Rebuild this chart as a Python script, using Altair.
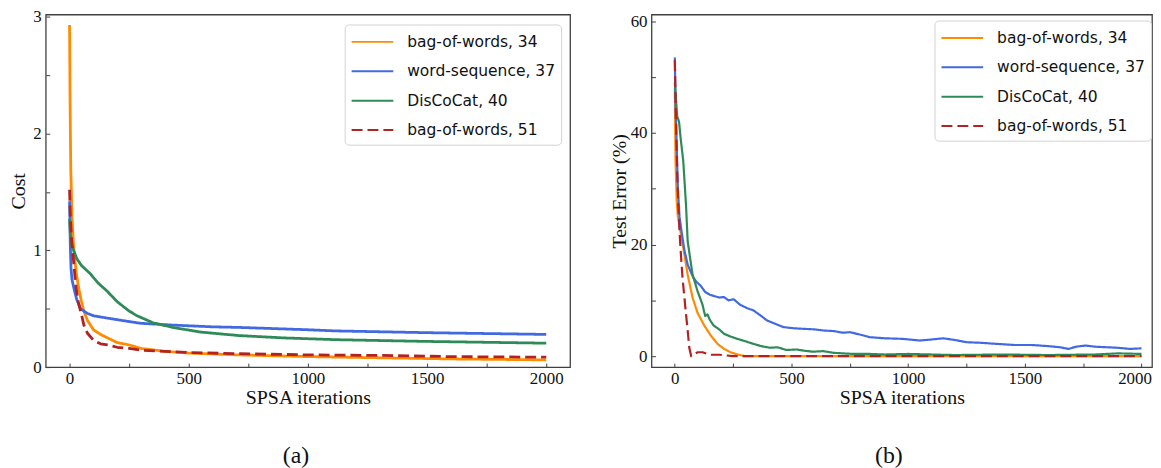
import altair as alt
import pandas as pd

SERIES = ["bag-of-words, 34", "word-sequence, 37", "DisCoCat, 40", "bag-of-words, 51"]
COLORS = ["#ff8c00", "#4169e1", "#2e8b57", "#b22222"]
DASHES = [[1, 0], [1, 0], [1, 0], [11, 5]]

# ---- panel (a): Cost ----
cost_bow34_x = [0, 2, 5, 10, 15, 20, 30, 40, 50, 60, 75, 100, 130, 160, 200, 250, 300, 400, 500, 700, 1000, 1300, 1600, 2000]
cost_bow34_y = [2.93, 2.3, 1.7, 1.3, 1.1, 0.95, 0.78, 0.66, 0.56, 0.48, 0.4, 0.32, 0.28, 0.25, 0.21, 0.19, 0.16, 0.135, 0.12, 0.105, 0.09, 0.08, 0.07, 0.062]
cost_ws37_x = [0, 3, 6, 10, 20, 30, 46, 75, 100, 158, 250, 300, 433, 600, 712, 1000, 1117, 1500, 2000]
cost_ws37_y = [1.42, 1.05, 0.85, 0.75, 0.66, 0.58, 0.5, 0.46, 0.44, 0.42, 0.39, 0.375, 0.36, 0.345, 0.34, 0.32, 0.31, 0.295, 0.28]
cost_dcc40_x = [0, 3, 8, 17, 30, 50, 87, 120, 158, 200, 250, 283, 350, 433, 550, 712, 900, 1117, 1500, 2000]
cost_dcc40_y = [1.27, 1.15, 1.05, 1.0, 0.93, 0.87, 0.8, 0.72, 0.65, 0.56, 0.48, 0.44, 0.38, 0.34, 0.3, 0.27, 0.25, 0.235, 0.22, 0.205]
cost_bow51_x = [0, 3, 8, 15, 25, 35, 50, 60, 75, 100, 130, 160, 200, 250, 300, 400, 500, 700, 1000, 1300, 1600, 2000]
cost_bow51_y = [1.52, 1.3, 1.1, 0.95, 0.72, 0.57, 0.45, 0.36, 0.29, 0.23, 0.2, 0.19, 0.17, 0.16, 0.145, 0.135, 0.125, 0.115, 0.105, 0.1, 0.09, 0.085]

# ---- panel (b): Test error (%) ----
err_bow34_x = [0, 3, 8, 13, 20, 26, 41, 55, 76, 97, 126, 154, 183, 211, 239, 268, 300, 2000]
err_bow34_y = [48, 35, 28, 25, 23.5, 21.8, 18.2, 14.6, 10.5, 7.8, 5.5, 3.7, 2.2, 1.3, 0.7, 0.3, 0, 0]
err_ws37_x = [0, 3, 8, 13, 20, 30, 41, 55, 64, 80, 95, 111, 130, 150, 166, 190, 210, 230, 252, 280, 310, 337, 370, 395,
              430, 466, 510, 551, 600, 636, 680, 720, 750, 800, 835, 900, 977, 1050, 1103, 1150, 1200, 1250, 1310,
              1380, 1455, 1530, 1600, 1650, 1687, 1720, 1760, 1800, 1850, 1900, 1950, 2000]
err_ws37_y = [53.5, 45, 38, 30, 25, 22, 19, 16.4, 15.5, 14.0, 13.2, 12.6, 11.5, 11.0, 10.8, 10.5, 10.6, 10.0, 10.2, 9.2,
              8.6, 8.2, 7.2, 6.4, 5.8, 5.2, 5.0, 4.9, 4.8, 4.6, 4.5, 4.2, 4.3, 3.8, 3.4, 3.2, 3.1, 2.8, 3.0, 3.2, 2.9,
              2.5, 2.4, 2.2, 2.0, 2.0, 1.8, 1.6, 1.3, 1.7, 1.9, 1.7, 1.6, 1.5, 1.3, 1.4]
err_dcc40_x = [0, 5, 10, 18, 25, 36, 48, 55, 64, 76, 97, 118, 130, 140, 150, 166, 190, 211, 240, 268, 300, 337, 370,
               408, 440, 478, 520, 551, 590, 636, 680, 721, 764, 835, 900, 1000, 1100, 1200, 1400, 1600, 1800, 1900, 2000]
err_dcc40_y = [49, 46, 43, 42, 39, 35, 27, 20.6, 18, 14.6, 11.7, 9.3, 7.2, 7.5, 6.5, 5.5, 4.8, 4.0, 3.5, 3.1, 2.7, 2.2,
               1.8, 1.5, 1.6, 1.1, 1.2, 1.0, 0.8, 0.9, 0.6, 0.5, 0.4, 0.4, 0.3, 0.4, 0.3, 0.2, 0.3, 0.2, 0.3, 0.5, 0.4]
err_bow51_x = [0, 5, 10, 15, 20, 26, 33, 41, 48, 55, 62, 70, 98, 119, 150, 190, 250, 2000]
err_bow51_y = [53, 42, 33, 27, 22.4, 18.2, 14, 10.5, 7.5, 4.6, 1.5, 0, 0.7, 0.7, 0.25, 0.25, 0, 0]

X_TICKS = [0, 250, 500, 750, 1000, 1250, 1500, 1750, 2000]
COST_TICKS = [0, 0.5, 1, 1.5, 2, 2.5, 3]
ERR_TICKS = [0, 10, 20, 30, 40, 50, 60]


def frame(pairs):
    rows = []
    for name, xs, ys in pairs:
        for xv, yv in zip(xs, ys):
            rows.append({"series": name, "x": xv, "y": yv})
    return pd.DataFrame(rows)


cost_df = frame([
    (SERIES[0], cost_bow34_x, cost_bow34_y),
    (SERIES[1], cost_ws37_x, cost_ws37_y),
    (SERIES[2], cost_dcc40_x, cost_dcc40_y),
    (SERIES[3], cost_bow51_x, cost_bow51_y),
])
err_df = frame([
    (SERIES[0], err_bow34_x, err_bow34_y),
    (SERIES[1], err_ws37_x, err_ws37_y),
    (SERIES[2], err_dcc40_x, err_dcc40_y),
    (SERIES[3], err_bow51_x, err_bow51_y),
])

SERIF = "Liberation Serif"
SANS = "DejaVu Sans"


def panel(df, xdom, ydom, yticks, ylabel_step, ytitle, width, height, legend_x, legend_y, caption, cap_dx,
          ytitle_pad, stroke_w, last_label_shift):
    legend = alt.Legend(
        title=None, orient="none", legendX=legend_x, legendY=legend_y,
        symbolType="M-1,0H3", symbolSize=441, symbolStrokeWidth=2,
        labelFont=SANS, labelFontSize=15.6, labelColor="#111111", labelOffset=34,
        padding=6, fillColor="white", strokeColor="#d3d3d3", cornerRadius=4,
        rowPadding=8.6, labelLimit=400,
    )
    color = alt.Color("series:N", scale=alt.Scale(domain=SERIES, range=COLORS), legend=legend)
    dash = alt.StrokeDash("series:N", scale=alt.Scale(domain=SERIES, range=DASHES), legend=legend)
    xaxis = alt.Axis(
        values=X_TICKS, title="SPSA iterations", offset=-4, tickSize=4, domain=False, grid=False,
        labelExpr="datum.value % 500 == 0 ? format(datum.value, 'd') : ''", labelOverlap=False,
        labelPadding=4, titlePadding=1,
        labelAlign={"expr": "datum.value >= 2000 ? '%s' : 'center'" % ("right" if last_label_shift else "center")},
        labelOffset={"expr": "datum.value >= 2000 ? %d : 0" % last_label_shift},
    )
    yaxis = alt.Axis(
        values=yticks, title=ytitle, offset=-4, tickSize=4, domain=False, grid=False,
        labelExpr="datum.value %% %s == 0 ? format(datum.value, 'd') : ''" % ylabel_step, labelOverlap=False,
        labelPadding=4.5, titlePadding=ytitle_pad,
    )
    layers = []
    for s in SERIES:
        layers.append(
            alt.Chart(df).transform_filter(alt.datum.series == s)
            .mark_line(strokeWidth=stroke_w, strokeJoin="round")
            .encode(
                x=alt.X("x:Q", scale=alt.Scale(domain=xdom, nice=False, zero=False), axis=xaxis),
                y=alt.Y("y:Q", scale=alt.Scale(domain=ydom, nice=False, zero=False), axis=yaxis),
                color=color, strokeDash=dash, order=alt.Order("x:Q"),
            )
        )
    return alt.layer(*layers).properties(
        width=width, height=height,
        title=alt.TitleParams(caption, orient="bottom", font=SERIF, fontSize=24, fontWeight="normal",
                              color="#111111", offset=37, dx=cap_dx, anchor="middle"),
    )


left = panel(cost_df, [-100, 2100], [0, 3.02], COST_TICKS, 1, "Cost", 528, 355, 301, 10, "(a)", -12, 4, 2.8, 0)
right = panel(err_df, [-100, 2045], [-1.96, 61.2], ERR_TICKS, 20, "Test Error (%)", 504, 355, 285, 6, "(b)", -13, 1,
              2.2, 10)

chart = alt.hconcat(left, right, spacing=37).resolve_scale(
    color="independent", strokeDash="independent"
).resolve_legend(
    color="independent", strokeDash="independent"
).properties(
    padding={"left": 0, "top": -3, "right": 0, "bottom": 0}
).configure_view(
    stroke="#404040", strokeWidth=1.3
).configure_axis(
    labelFont=SERIF, labelFontSize=17, labelColor="#111111",
    titleFont=SERIF, titleFontSize=20, titleFontWeight="normal", titleColor="#111111",
    tickColor="#404040", tickWidth=1,
)

chart.save("out.html", embed_options={"renderer": "svg", "actions": False})
